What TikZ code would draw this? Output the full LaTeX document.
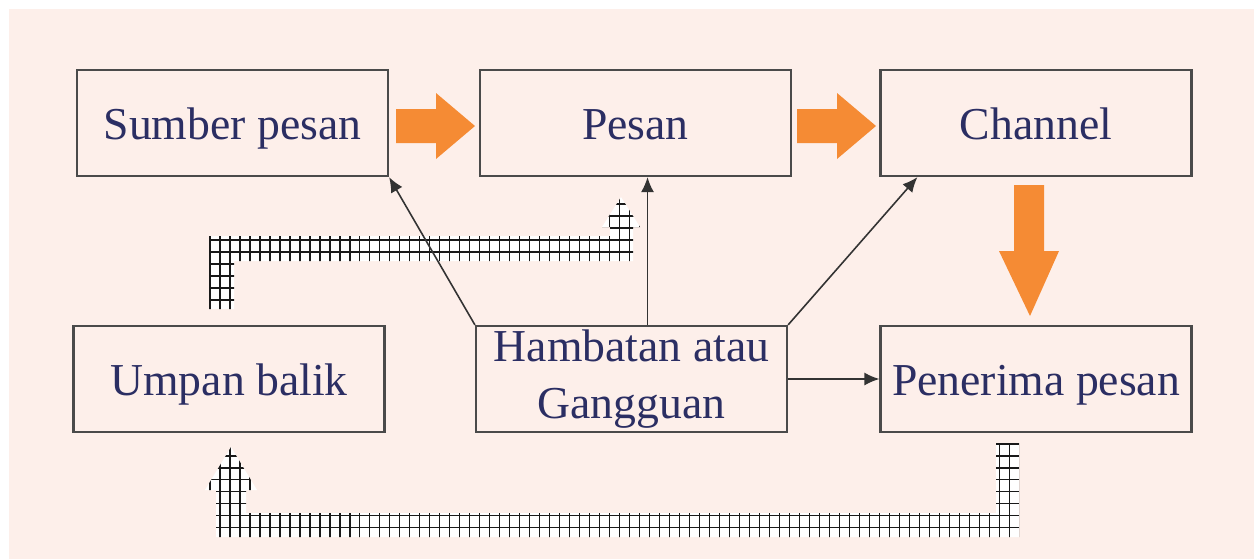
\documentclass[tikz,border=0pt]{standalone}
\usepackage{fontspec}
\setmainfont{Liberation Serif}
\usetikzlibrary{calc}
\usetikzlibrary{arrows.meta}
\definecolor{BgPink}{HTML}{FDEFEA}
\definecolor{TextNavy}{HTML}{2B2E63}
\definecolor{BoxGrey}{HTML}{4A4A4A}
\definecolor{ArrowOrange}{HTML}{F58B34}
\tikzset{
  block/.style={draw=BoxGrey, line width=1.3pt, fill=BgPink, text=TextNavy,
    minimum width=6.22cm, minimum height=2.12cm, inner sep=0pt, align=center,
    font=\fontsize{26}{31.5}\selectfont},
  oneline/.style={text height=19pt, text depth=0pt},
  link/.style={draw=black!80, line width=0.9pt, -{Latex[length=3mm,width=2.6mm]}},
  fatarrow/.style={fill=ArrowOrange},
  mesh/.style={black!90, line width=0.65pt, xstep=0.2cm, ystep=0.24cm}
}

\begin{document}
\begin{tikzpicture}[x=0.02cm,y=-0.02cm]

  \useasboundingbox (0,0) rectangle (1254,559);
  \fill[BgPink] (9,9) rectangle (1254,559);% page background

  % the six boxes
  \node[block,oneline] (sumber)   at (232.5,123) {Sumber pesan};
  \node[block,oneline] (pesan)    at (635.5,123) {Pesan};
  \node[block,oneline] (channel)  at (1036,123)  {Channel};
  \node[block,oneline] (umpan)    at (229,379)   {Umpan balik};
  \node[block]         (hambatan) at (631.5,379) {Hambatan atau\\[1pt]Gangguan};
  \node[block,oneline] (penerima) at (1036,379)  {Penerima pesan};

  % orange arrows along the top row and down to the receiver
  \fill[fatarrow] (396,109) -- (436,109) -- (436,93) -- (475,126)
    -- (436,159) -- (436,143) -- (396,143) -- cycle;
  \fill[fatarrow] (797,109) -- (837,109) -- (837,93) -- (876,126)
    -- (837,159) -- (837,143) -- (797,143) -- cycle;
  \fill[fatarrow] (1014,185) -- (1044,185) -- (1044,251) -- (1059,251)
    -- (1030,316) -- (999,251) -- (1014,251) -- cycle;

  % feedback from the receiver back to Umpan balik
  \begin{scope}
    \clip (996,443) -- (1019,443) -- (1019,537) -- (216,537)
      -- (216,490) -- (205,490) -- (231,447) -- (257,490) -- (246,490)
      -- (246,513) -- (996,513) -- cycle;
    \fill[white] (200,545) rectangle (1030,440);
    \draw[mesh] (200,545) grid (1030,440);
  \end{scope}

  % feedback from Umpan balik up to Pesan
  \begin{scope}
    \clip (209,309) -- (234,309) -- (234,261) -- (633,261)
      -- (633,227) -- (640,227) -- (621,197) -- (602,227) -- (610,227)
      -- (610,236) -- (209,236) -- cycle;
    \fill[white] (200,315) rectangle (645,190);
    \draw[mesh] (200,315) grid (645,190);
  \end{scope}

  % noise reaches every stage
  \coordinate (hn) at ($(hambatan.north)+(16,0)$);
  \coordinate (cs) at ($(channel.south west)+(38,0)$);
  \draw[link] (hambatan.north west) -- (sumber.south east);
  \draw[link] (hn) -- (hn |- pesan.south);
  \draw[link] (hambatan.north east) -- (cs);
  \draw[link] (hambatan.east) -- (penerima.west);

\end{tikzpicture}
\end{document}
